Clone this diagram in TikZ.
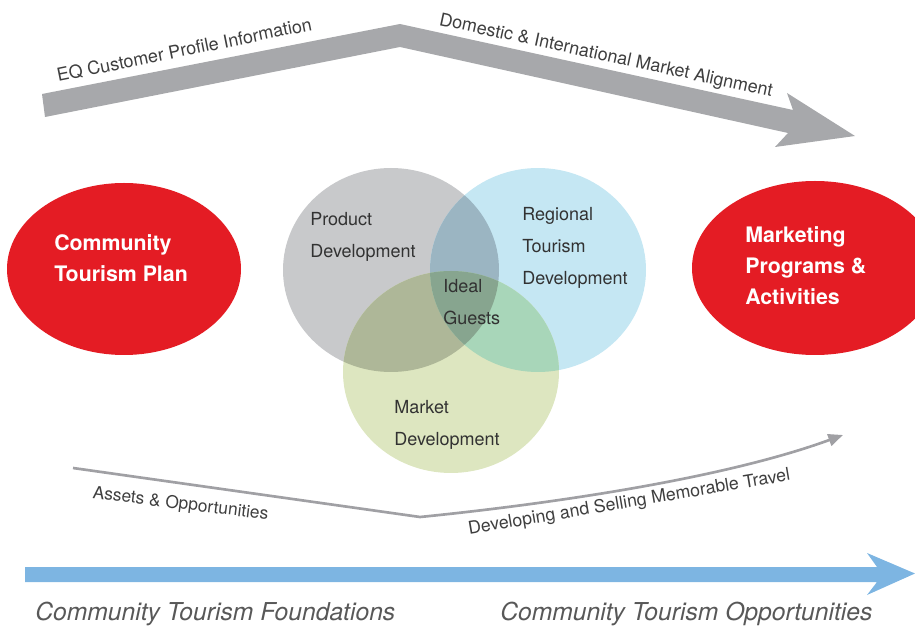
\documentclass[tikz,border=0pt]{standalone}
\usepackage{fontspec}
\setmainfont{TeX Gyre Heros}
\usetikzlibrary{arrows.meta,shapes.geometric}
\definecolor{arrgray}{RGB}{167,168,171}
\definecolor{linegray}{RGB}{160,160,164}
\definecolor{tourred}{RGB}{228,28,36}
\definecolor{arrblue}{RGB}{125,181,226}
\definecolor{vgray}{RGB}{200,201,203}
\definecolor{vblue}{RGB}{197,231,243}
\definecolor{vgreen}{RGB}{221,230,192}
\definecolor{vgb}{RGB}{155,181,194}
\definecolor{vgg}{RGB}{174,183,152}
\definecolor{vbg}{RGB}{168,214,185}
\definecolor{vall}{RGB}{135,165,143}
\definecolor{labgray}{RGB}{62,62,62}
\definecolor{venntext}{RGB}{50,50,50}
\definecolor{footgray}{RGB}{88,88,88}
\begin{document}
\begin{tikzpicture}[x=0.75pt,y=-0.75pt,
  lbl/.style={font=\fontsize{13.5}{16}\selectfont, text=labgray, inner sep=0pt, anchor=base},
  venntxt/.style={font=\fontsize{13.5}{16}\selectfont, text=venntext, anchor=base west, inner sep=0pt},
  redtxt/.style={font=\fontsize{16}{23}\selectfont\bfseries, text=white, anchor=base west, inner sep=0pt},
  foot/.style={font=\fontsize{18.5}{22}\selectfont\itshape, text=footgray, anchor=base west, inner sep=0pt},
  redell/.style={ellipse, fill=tourred, inner sep=0pt},
  thinarrow/.style={draw=linegray, line width=2pt, -{Triangle[length=11pt,width=9pt]}}]
\useasboundingbox (0,0) rectangle (915,627);
\clip (0,0) rectangle (915,627);

% top gray arrow
\fill[arrgray] (42,94) -- (400,24) -- (793,110) -- (787,93) -- (855,136)
  -- (775,147) -- (788,133) -- (400,47) -- (45,117) -- cycle;
\node[lbl, rotate=11.5] (eq) at (185.5,56) {EQ Customer Profile Information};
\node[lbl, rotate=-12.2] (dom) at (605,61) {Domestic \& International Market Alignment};

% red ellipses
\node[redell, minimum width=175.5pt, minimum height=129pt] (ctp) at (124,269) {};
\node[redell, minimum width=184.5pt, minimum height=130.5pt] (mpa) at (815,268) {};
\node[redtxt] (ctp1) at (54,251) {Community};
\node[redtxt] (ctp2) at (54,282) {Tourism Plan};
\node[redtxt] (mpa1) at (745,243) {Marketing};
\node[redtxt] (mpa2) at (745,274) {Programs \&};
\node[redtxt] (mpa3) at (745,305) {Activities};

% venn diagram
\def\gcirc{(391,270) ellipse [x radius=108, y radius=102]}
\def\bcirc{(538,270) ellipse [x radius=108, y radius=102]}
\def\ncirc{(451,372) ellipse [x radius=108, y radius=101]}
\fill[vgray] \gcirc;
\fill[vblue] \bcirc;
\fill[vgreen] \ncirc;
\begin{scope}\clip \gcirc; \fill[vgb] \bcirc; \end{scope}
\begin{scope}\clip \gcirc; \fill[vgg] \ncirc; \end{scope}
\begin{scope}\clip \bcirc; \fill[vbg] \ncirc; \end{scope}
\begin{scope}\clip \gcirc; \clip \bcirc; \fill[vall] \ncirc; \end{scope}

\node[venntxt] (pd1) at (310,226) {Product};
\node[venntxt] (pd2) at (310,258) {Development};
\node[venntxt] (rt1) at (522,221) {Regional};
\node[venntxt] (rt2) at (522,253) {Tourism};
\node[venntxt] (rt3) at (522,285) {Development};
\node[venntxt] (ig1) at (443,293) {Ideal};
\node[venntxt] (ig2) at (443,325) {Guests};
\node[venntxt] (md1) at (394,414) {Market};
\node[venntxt] (md2) at (394,446) {Development};

% thin arrow
\coordinate (as) at (73,468);
\coordinate (av) at (420,517);
\coordinate (at) at (843,435);
\draw[thinarrow] (as) -- (av) .. controls (540,505) and (720,480) .. (at);
\node[lbl, font=\fontsize{13}{16}\selectfont, rotate=-7] (ao) at (180,509) {Assets \& Opportunities};
\node[lbl, font=\fontsize{13.3}{16}\selectfont, rotate=9.6] (ds) at (630,507.5) {Developing and Selling Memorable Travel};

% blue arrow
\fill[arrblue] (25,567) -- (877,567) -- (867,553) -- (915,573.5) -- (867,595) -- (877,582) -- (25,582) -- cycle;
\node[foot] (ctf) at (35,620) {Community Tourism Foundations};
\node[foot] (cto) at (500,620) {Community Tourism Opportunities};
\end{tikzpicture}
\end{document}
